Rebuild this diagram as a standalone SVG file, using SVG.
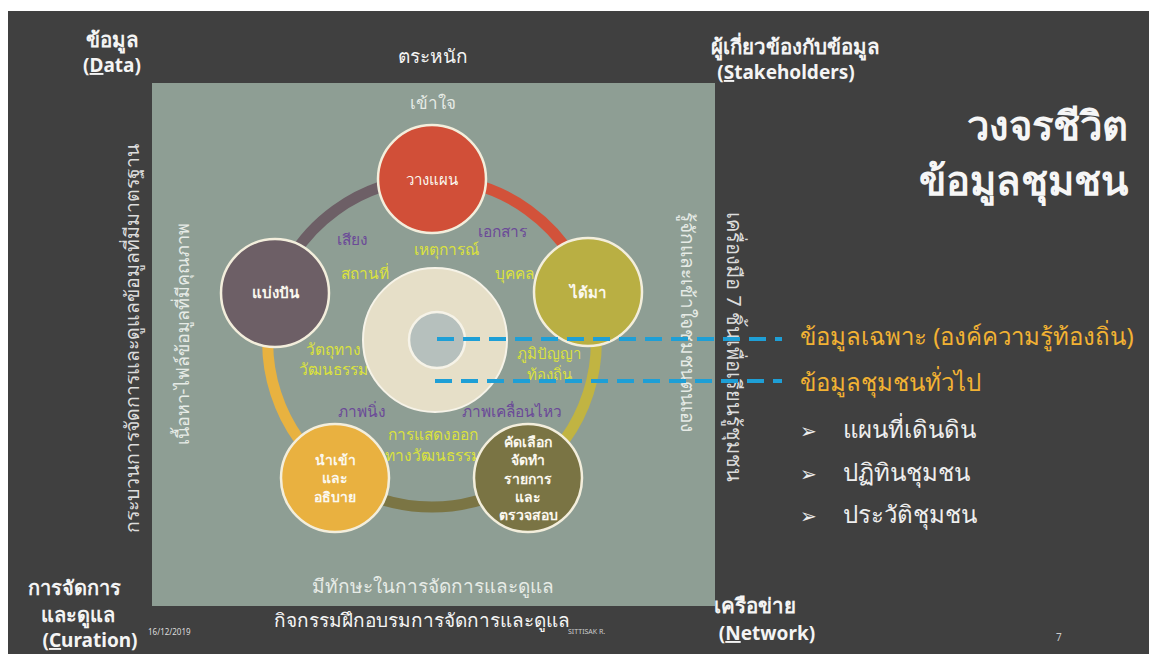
<svg xmlns="http://www.w3.org/2000/svg" width="1149" height="654" viewBox="0 0 1149 654">
<style>
text{font-family:"Noto Sans","DejaVu Sans","Liberation Sans",sans-serif;}
.cl{fill:#f4f4f4;font-size:19px;font-weight:bold;text-anchor:middle;}
.th{font-size:20.5px;}
.plain{fill:#f4f4f4;font-size:19px;text-anchor:middle;}
.lt{fill:#e6ebe6;font-size:17px;text-anchor:middle;}
.node{stroke:#f3eedc;stroke-width:2.5;}
.nl{fill:#fbf8ef;font-size:15px;font-weight:bold;text-anchor:middle;}
.nm{fill:#fbf8ef;font-size:14px;font-weight:bold;text-anchor:middle;}
.pu{fill:#6b4a98;font-size:15.5px;text-anchor:middle;}
.yg{fill:#dbe23c;font-size:15.5px;text-anchor:middle;}
.arc{fill:none;stroke-width:11;}
.dash{stroke:#1e9fd6;stroke-width:4;stroke-dasharray:17 9;fill:none;}
.gold{fill:#f2b233;font-size:24px;}
.li{fill:#eeeeee;font-size:24px;}
</style>
<rect x="0" y="0" width="1149" height="654" fill="#ffffff"/>
<rect x="8" y="11" width="1141" height="643" fill="#404040"/>
<rect x="152" y="83" width="563" height="523" fill="#8e9e94"/>

<g id="corner-labels">
<text class="cl th" x="112" y="47">ข้อมูล</text>
<text class="cl" x="112" y="72">(<tspan text-decoration="underline">D</tspan>ata)</text>
<text class="plain" x="433" y="63">ตระหนัก</text>
<text class="cl th" x="795" y="54">ผู้เกี่ยวข้องกับข้อมูล</text>
<text class="cl" x="786" y="79">(<tspan text-decoration="underline">S</tspan>takeholders)</text>
<text class="cl" x="74" y="595" style="font-size:20px">การจัดการ</text>
<text class="cl" x="78" y="622" style="font-size:20px">และดูแล</text>
<text class="cl" x="90" y="647">(<tspan text-decoration="underline">C</tspan>uration)</text>
<text class="cl th" x="755" y="613">เครือข่าย</text>
<text class="cl" x="767" y="640">(<tspan text-decoration="underline">N</tspan>etwork)</text>
<text class="plain" x="422" y="627">กิจกรรมฝึกอบรมการจัดการและดูแล</text>
<text x="148" y="635" fill="#dddddd" font-size="8" font-family="Liberation Sans, sans-serif">16/12/2019</text>
<text x="568" y="634" fill="#cccccc" font-size="7" font-family="Liberation Sans, sans-serif">SITTISAK R.</text>
<text x="1056" y="641" fill="#cccccc" font-size="10" font-family="Liberation Sans, sans-serif">7</text>
</g>

<g id="side-labels">
<text class="lt" x="433" y="109">เข้าใจ</text>
<text class="lt" x="433" y="593" style="font-size:19px">มีทักษะในการจัดการและดูแล</text>
<text class="lt" style="font-size:19.5px;fill:#dcdcdc" transform="translate(139 338) rotate(-90)">กระบวนการจัดการและดูแลข้อมูลที่มีมาตรฐาน</text>
<text class="lt" style="font-size:18px" transform="translate(189 334) rotate(-90)">เนื้อหา-ไฟล์ข้อมูลที่มีคุณภาพ</text>
<text class="lt" style="font-size:19px" transform="translate(681 322) rotate(90)">รู้จักและเข้าใจชุมชนตนเอง</text>
<text class="lt" style="font-size:20px;fill:#dcdcdc" transform="translate(727 347) rotate(90)">เครื่องมือ 7 ชิ้นเพื่อเรียนรู้ชุมชน</text>
</g>

<g id="title">
<text x="1128" y="140" fill="#f6f6f6" font-size="40" font-weight="bold" text-anchor="end">วงจรชีวิต</text>
<text x="1128" y="195" fill="#f6f6f6" font-size="40" font-weight="bold" text-anchor="end">ข้อมูลชุมชน</text>
</g>

<g id="connectors">
<path class="arc" stroke="#d2523a" d="M432 179 A164 164 0 0 1 588 292"/>
<path class="arc" stroke="#c1b442" d="M588 292 A164 164 0 0 1 528.4 475.7"/>
<path class="arc" stroke="#7b7544" d="M528.4 475.7 A164 164 0 0 1 335.6 475.7"/>
<path class="arc" stroke="#e8b240" d="M335.6 475.7 A164 164 0 0 1 276 292"/>
<path class="arc" stroke="#6d5f66" d="M276 292 A164 164 0 0 1 432 179"/>
</g>

<g id="center">
<circle cx="435" cy="340" r="72" fill="#e6dfc8" stroke="#f6f3e8" stroke-width="2"/>
<circle cx="437" cy="340" r="28" fill="#b6c0bd" stroke="#f6f3e8" stroke-width="2.5"/>
</g>

<g id="ring-labels">
<text class="pu" x="352" y="245">เสียง</text>
<text class="pu" x="502" y="237">เอกสาร</text>
<text class="yg" x="446" y="255">เหตุการณ์</text>
<text class="yg" x="365" y="279">สถานที่</text>
<text class="yg" x="514" y="279">บุคคล</text>
<text class="yg" x="333" y="355">วัตถุทาง</text>
<text class="yg" x="333" y="375">วัฒนธรรม</text>
<text class="yg" x="549" y="359" style="font-size:15px">ภูมิปัญญา</text>
<text class="yg" x="549" y="380" style="font-size:15px">ท้องถิ่น</text>
<text class="pu" x="362" y="417">ภาพนิ่ง</text>
<text class="pu" x="512" y="417">ภาพเคลื่อนไหว</text>
<text class="yg" x="433" y="440">การแสดงออก</text>
<text class="yg" x="433" y="461">ทางวัฒนธรรม</text>
</g>

<g id="node-plan">
<circle class="node" cx="432" cy="179" r="54" fill="#d14f38"/>
<text class="nl" x="432" y="185" style="font-weight:normal">วางแผน</text>
</g>
<g id="node-acquire">
<circle class="node" cx="588" cy="292" r="54" fill="#b9af43"/>
<text class="nl" x="588" y="298">ได้มา</text>
</g>
<g id="node-select">
<circle class="node" cx="528" cy="478" r="54" fill="#7a7444"/>
<text class="nm" x="528" y="447">คัดเลือก</text>
<text class="nm" x="528" y="465">จัดทำ</text>
<text class="nm" x="528" y="484">รายการ</text>
<text class="nm" x="528" y="502">และ</text>
<text class="nm" x="528" y="520">ตรวจสอบ</text>
</g>
<g id="node-import">
<circle class="node" cx="335" cy="478" r="54" fill="#e9b140"/>
<text class="nm" x="335" y="465">นำเข้า</text>
<text class="nm" x="335" y="483">และ</text>
<text class="nm" x="335" y="502">อธิบาย</text>
</g>
<g id="node-share">
<circle class="node" cx="275" cy="293" r="54" fill="#6d5f66"/>
<text class="nl" x="275" y="298">แบ่งปัน</text>
</g>

<g id="dashed-links">
<line class="dash" x1="437" y1="339" x2="782" y2="339"/>
<line class="dash" x1="435" y1="381" x2="782" y2="381"/>
</g>

<g id="right-list">
<text class="gold" x="800" y="345">ข้อมูลเฉพาะ (องค์ความรู้ท้องถิ่น)</text>
<text class="gold" x="800" y="391">ข้อมูลชุมชนทั่วไป</text>
<text class="li" x="800" y="438" style="font-size:20px">➢</text>
<text class="li" x="843" y="438">แผนที่เดินดิน</text>
<text class="li" x="800" y="481" style="font-size:20px">➢</text>
<text class="li" x="843" y="481">ปฏิทินชุมชน</text>
<text class="li" x="800" y="523" style="font-size:20px">➢</text>
<text class="li" x="843" y="523">ประวัติชุมชน</text>
</g>
</svg>
